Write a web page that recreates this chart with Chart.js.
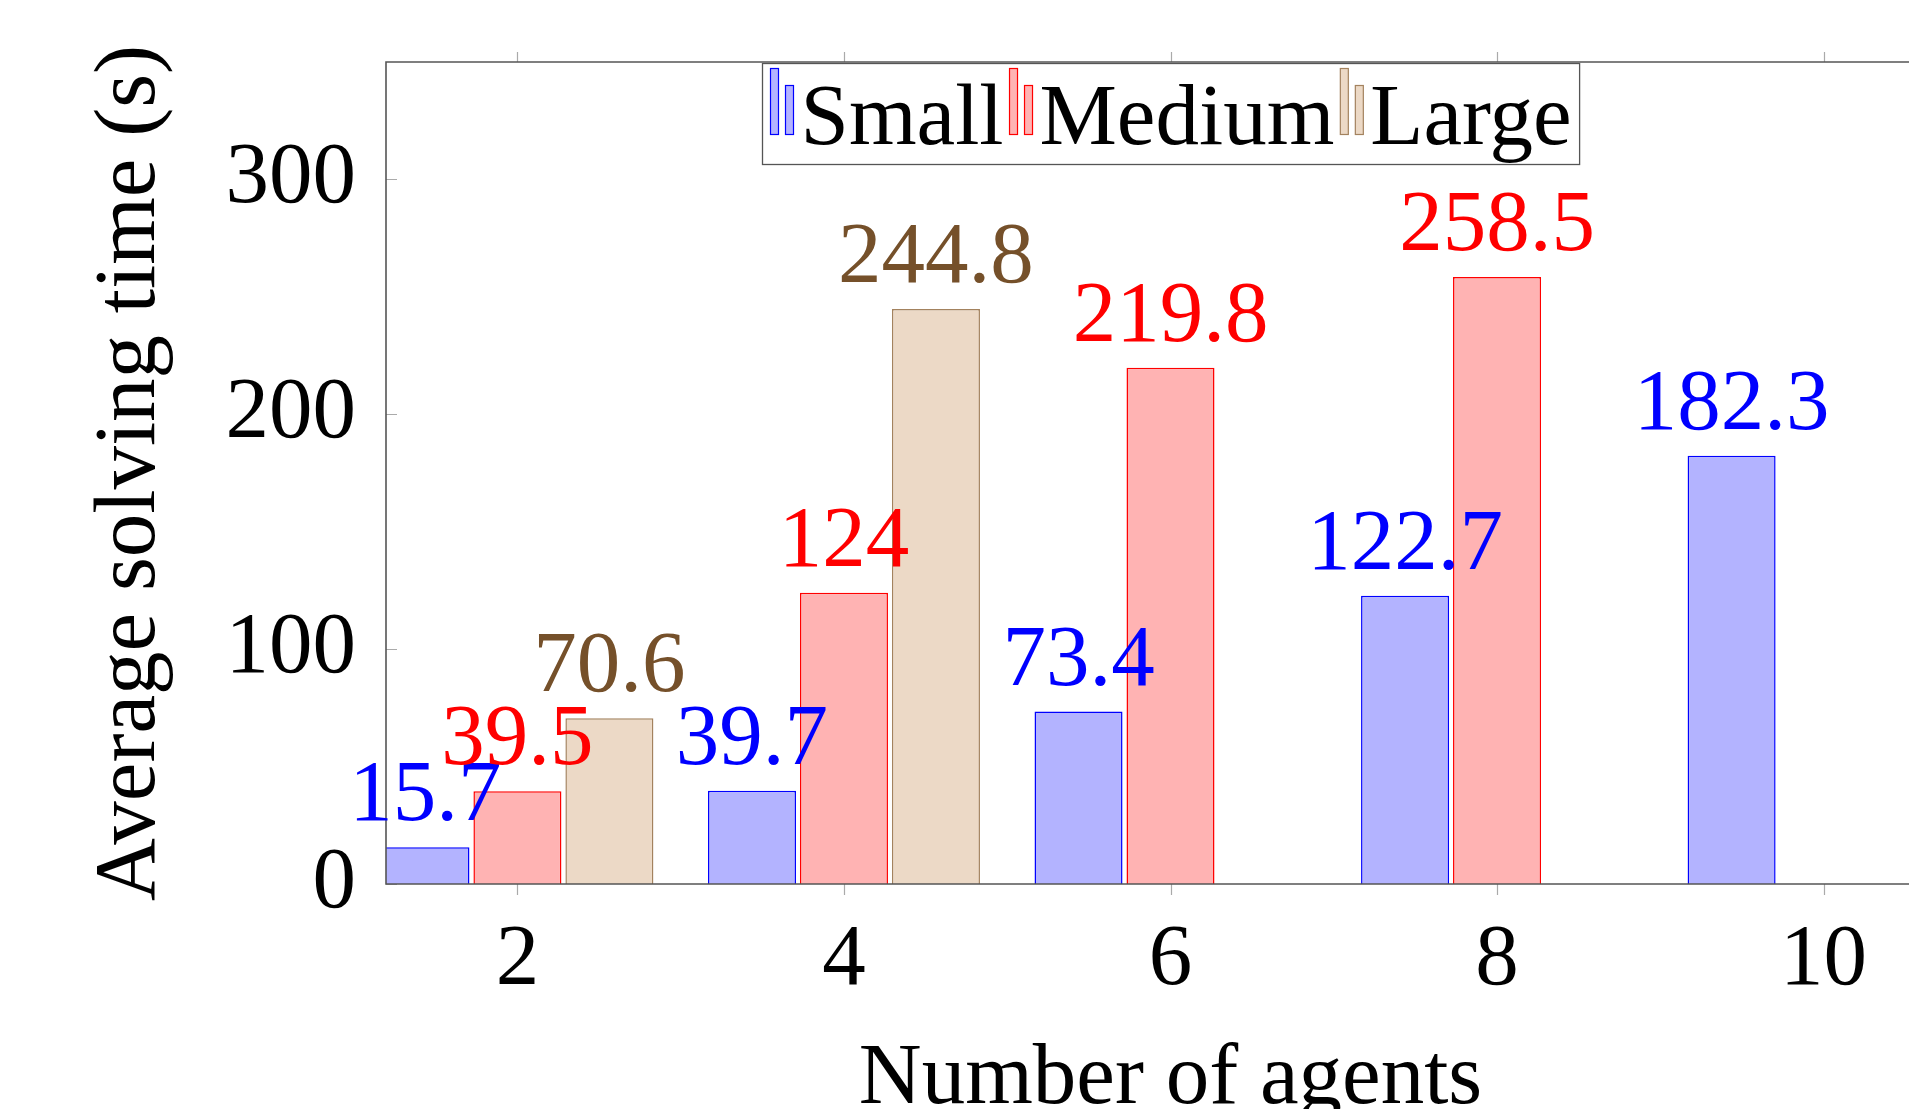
<!DOCTYPE html>
<html>
<head>
<meta charset="utf-8">
<script src="https://cdn.jsdelivr.net/npm/chart.js@4.4.1/dist/chart.umd.min.js"></script>
<style>
  html, body { margin: 0; padding: 0; background: #ffffff; overflow: hidden; }
  #wrap { position: relative; width: 1960px; height: 1109px; }
</style>
</head>
<body>
<div id="wrap"><canvas id="c"></canvas></div>
<script>
// ---- data ----
const agents = [2, 4, 6, 8, 10];
const seriesNames = ['Small', 'Medium', 'Large'];
const smallTimes = [15.7, 39.7, 73.4, 122.7, 182.3];
const mediumTimes = [39.5, 124, 219.8, 258.5, null];
const largeTimes = [70.6, 244.8, null, null, null];
const xTickValues = [2, 4, 6, 8, 10];
const yTickValues = [0, 100, 200, 300];

const fillColors = ['#b3b3ff', '#ffb3b3', '#ecd9c6'];
const borderColors = ['#0000ff', '#ff0000', '#a3825e'];
const labelColors = ['#0000ff', '#ff0000', '#75502a'];

const FONT = 'Liberation Serif';
const FS = 87;

function points(vals) {
  const out = [];
  agents.forEach((a, i) => { if (vals[i] !== null) out.push({ x: a, y: vals[i] }); });
  return out;
}

const seriesValues = [smallTimes, mediumTimes, largeTimes];
const datasets = seriesNames.map((name, i) => ({
  label: name,
  data: points(seriesValues[i]),
  backgroundColor: fillColors[i],
  borderColor: borderColors[i],
  borderWidth: 1.5,
  labelColor: labelColors[i],
  categoryPercentage: 0.845,
  barPercentage: 0.957
}));

Chart.defaults.font.family = FONT;
Chart.defaults.color = '#000';

const framePlugin = {
  id: 'frame',
  afterDatasetsDraw(chart) {
    const { ctx, chartArea: a, scales: { x, y } } = chart;
    ctx.save();
    // ticks
    ctx.strokeStyle = '#aaaaaa';
    ctx.lineWidth = 1.2;
    ctx.beginPath();
    xTickValues.forEach(v => {
      const px = Math.round(x.getPixelForValue(v)) + 0.5;
      ctx.moveTo(px, a.top); ctx.lineTo(px, a.top - 10);
      ctx.moveTo(px, a.bottom); ctx.lineTo(px, a.bottom + 11);
    });
    yTickValues.forEach(v => {
      const py = Math.round(y.getPixelForValue(v)) + 0.5;
      ctx.moveTo(a.left, py); ctx.lineTo(a.left + 11, py);
    });
    ctx.stroke();
    // frame
    ctx.strokeStyle = '#555555';
    ctx.lineWidth = 1.6;
    ctx.beginPath();
    ctx.moveTo(a.right + 10, a.top);
    ctx.lineTo(a.left, a.top);
    ctx.lineTo(a.left, a.bottom);
    ctx.lineTo(a.right + 10, a.bottom);
    ctx.stroke();
    // value labels
    ctx.font = FS + 'px "' + FONT + '"';
    ctx.textAlign = 'center';
    ctx.textBaseline = 'alphabetic';
    chart.data.datasets.forEach((ds, di) => {
      const meta = chart.getDatasetMeta(di);
      meta.data.forEach((el, j) => {
        const v = ds.data[j].y;
        ctx.fillStyle = ds.labelColor;
        ctx.fillText(String(v), el.x, el.y - 27);
      });
    });
    ctx.restore();
  }
};

const legendPlugin = {
  id: 'boxLegend',
  afterDraw(chart) {
    const { ctx, chartArea: a } = chart;
    ctx.save();
    ctx.font = FS + 'px "' + FONT + '"';
    const iconW = 23, gapAfterIcon = 7, gapAfterText = 6, pad = 8;
    const items = chart.data.datasets.map(ds => ({ ds, w: ctx.measureText(ds.label).width }));
    let total = pad * 2 - gapAfterText;
    items.forEach(it => { total += iconW + gapAfterIcon + it.w + gapAfterText; });
    const cx = (a.left + a.right) / 2;
    const left = Math.round(cx - total / 2) + 0.5;
    const top = a.top + 1.5;
    const h = 101;
    ctx.fillStyle = '#ffffff';
    ctx.fillRect(left, top, total, h);
    ctx.strokeStyle = '#555555';
    ctx.lineWidth = 1.3;
    ctx.strokeRect(left, top, total, h);
    let xx = left + pad;
    const base = top + 80;
    items.forEach(it => {
      ctx.fillStyle = it.ds.backgroundColor;
      ctx.strokeStyle = it.ds.borderColor;
      ctx.lineWidth = 1.2;
      ctx.fillRect(xx, top + 5, 8, 66);
      ctx.strokeRect(xx, top + 5, 8, 66);
      ctx.fillRect(xx + 15, top + 22, 8, 49);
      ctx.strokeRect(xx + 15, top + 22, 8, 49);
      xx += iconW + gapAfterIcon;
      ctx.fillStyle = '#000000';
      ctx.textAlign = 'left';
      ctx.textBaseline = 'alphabetic';
      ctx.fillText(it.ds.label, xx, base);
      xx += it.w + gapAfterText;
    });
    ctx.restore();
  }
};

new Chart(document.getElementById('c'), {
  type: 'bar',
  data: { datasets },
  options: {
    responsive: true,
    maintainAspectRatio: false,
    animation: false,
    devicePixelRatio: 1,
    layout: { padding: { left: 0, top: 62, right: 5, bottom: 0 } },
    plugins: { legend: { display: false }, tooltip: { enabled: false } },
    scales: {
      x: {
        type: 'linear',
        min: 1.195,
        max: 10.805,
        offset: false,
        grid: { display: false, offset: false },
        border: { display: false },
        afterBuildTicks(s) { s.ticks = xTickValues.map(v => ({ value: v })); },
        afterFit(s) { s.height = 225; s.paddingLeft = 0; s.paddingRight = 0; },
        ticks: { font: { size: FS }, color: '#000', padding: 17, maxRotation: 0, autoSkip: false },
        title: { display: true, text: 'Number of agents', font: { size: FS, lineHeight: 0.6 }, color: '#000', padding: { top: 0, bottom: 3 } }
      },
      y: {
        type: 'linear',
        min: 0,
        max: 350,
        grid: { display: false },
        border: { display: false },
        afterBuildTicks(s) { s.ticks = yTickValues.map(v => ({ value: v })); },
        afterFit(s) { s.width = 386; s.paddingTop = 0; s.paddingBottom = 0; },
        ticks: { font: { size: FS }, color: '#000', padding: 22 },
        title: { display: true, text: 'Average solving time (s)', font: { size: FS, lineHeight: 0.8 }, color: '#000', padding: { top: 96, bottom: 0 } }
      }
    }
  },
  plugins: [framePlugin, legendPlugin]
});
</script>
</body>
</html>
